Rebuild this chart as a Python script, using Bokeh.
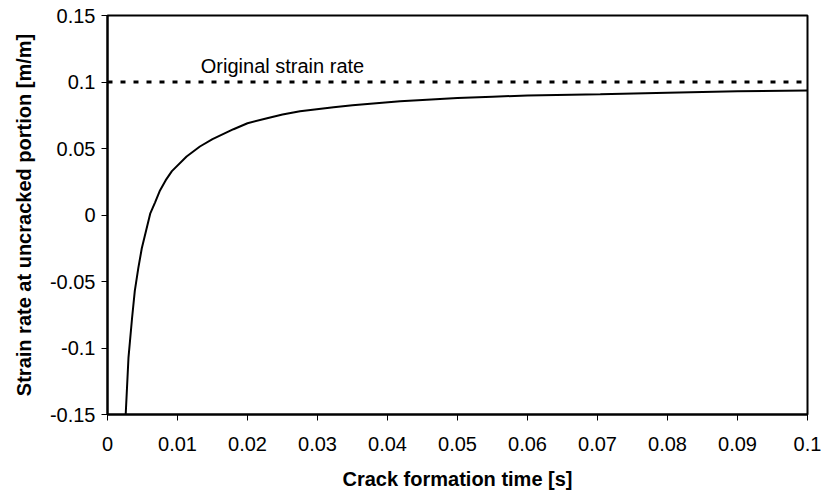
from bokeh.plotting import figure
from bokeh.models import Range1d, FixedTicker, Label
from bokeh.embed import file_html
from bokeh.resources import INLINE

# Crack formation time [s] and the resulting strain rate at the uncracked portion [m/m]
crack_time = [0.0026, 0.003, 0.0035, 0.0039, 0.0044, 0.0049, 0.0055, 0.0061,
              0.0068, 0.0075, 0.0083, 0.0092, 0.0113, 0.0132, 0.015, 0.018,
              0.02, 0.0228, 0.025, 0.0275, 0.0323, 0.035, 0.0418, 0.045,
              0.05, 0.055, 0.06, 0.0704, 0.08, 0.09, 0.1]
strain_rate = [-0.15, -0.107, -0.078, -0.057, -0.04, -0.025, -0.012, 0.001,
               0.0095, 0.0185, 0.026, 0.033, 0.044, 0.0515, 0.057, 0.0645,
               0.069, 0.0728, 0.0755, 0.078, 0.081, 0.0825, 0.0855, 0.0865,
               0.088, 0.089, 0.0898, 0.0908, 0.092, 0.093, 0.0936]

# Reference (original) strain rate
original_rate = 0.1
original_label = "Original strain rate"

x_ticks = [0, 0.01, 0.02, 0.03, 0.04, 0.05, 0.06, 0.07, 0.08, 0.09, 0.1]
x_tick_labels = ["0", "0.01", "0.02", "0.03", "0.04", "0.05", "0.06", "0.07", "0.08", "0.09", "0.1"]
y_ticks = [-0.15, -0.1, -0.05, 0, 0.05, 0.1, 0.15]
y_tick_labels = ["-0.15", "-0.1", "-0.05", "0", "0.05", "0.1", "0.15"]

FONT = "Liberation Sans"

p = figure(width=821, height=492, output_backend="svg", toolbar_location=None,
           x_range=Range1d(0, 0.1), y_range=Range1d(-0.15, 0.15),
           min_border_left=107, min_border_right=14, min_border_top=15,
           min_border_bottom=78, background_fill_color="white",
           border_fill_color="white")

p.grid.visible = False
p.outline_line_color = "black"
p.outline_line_width = 2

for ax, ticks, labels in ((p.xaxis[0], x_ticks, x_tick_labels),
                          (p.yaxis[0], y_ticks, y_tick_labels)):
    ax.ticker = FixedTicker(ticks=ticks)
    ax.major_label_overrides = {t: l for t, l in zip(ticks, labels)}
    ax.minor_tick_line_color = None
    ax.major_tick_out = 6
    ax.major_tick_in = 0
    ax.major_tick_line_color = "black"
    ax.major_tick_line_width = 1
    ax.axis_line_color = "black"
    ax.axis_line_width = 2
    ax.major_label_text_font = FONT
    ax.major_label_text_font_size = "20px"
    ax.major_label_text_color = "black"
    ax.axis_label_text_font = FONT
    ax.axis_label_text_font_size = "20px"
    ax.axis_label_text_font_style = "bold"
    ax.axis_label_text_color = "black"

p.xaxis.axis_label = "Crack formation time [s]"
p.yaxis.axis_label = "Strain rate at uncracked portion [m/m]"
p.xaxis.major_label_standoff = 16
p.xaxis.axis_label_standoff = 14
p.yaxis.major_label_standoff = 6
p.yaxis.axis_label_standoff = 12

# dotted reference line at the original strain rate
p.line(x=[0, 0.1], y=[original_rate, original_rate], line_color="black",
       line_width=3, line_dash="5 8")

# strain rate curve
p.line(x=crack_time, y=strain_rate, line_color="black", line_width=2)

p.add_layout(Label(x=0.025, y=0.112, text=original_label, text_align="center",
                   text_baseline="middle", text_font=FONT,
                   text_font_size="20px", text_color="black"))

open("out.html", "w").write(file_html(p, INLINE))
